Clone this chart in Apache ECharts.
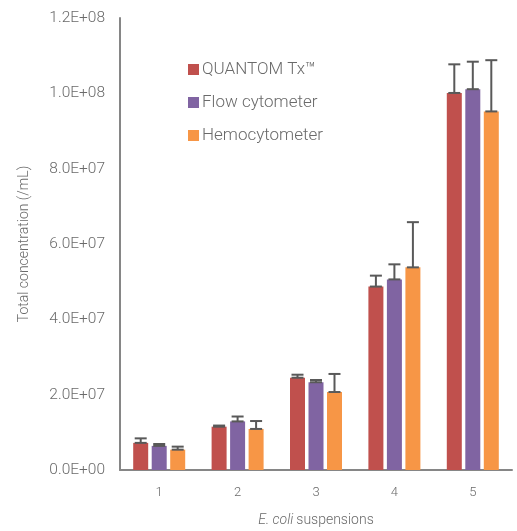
<!DOCTYPE html>
<html>
<head>
<meta charset="utf-8">
<script src="https://cdn.jsdelivr.net/npm/echarts@6/dist/echarts.min.js"></script>
<style>html,body{margin:0;padding:0;background:#fff}#c{width:517px;height:531px}</style>
</head>
<body>
<div id="c"></div>
<script>
var categories = ['1', '2', '3', '4', '5'];
var seriesNames = ['QUANTOM Tx\u2122', 'Flow cytometer', 'Hemocytometer'];
var quantom = [7.2e6, 11.5e6, 24.5e6, 48.7e6, 100.1e6];
var quantomUpper = [8.4e6, 11.8e6, 25.3e6, 51.6e6, 107.7e6];
var flow = [6.4e6, 12.9e6, 23.3e6, 50.6e6, 101.1e6];
var flowUpper = [6.9e6, 14.2e6, 23.9e6, 54.6e6, 108.4e6];
var hemo = [5.4e6, 10.9e6, 20.7e6, 53.8e6, 95.2e6];
var hemoUpper = [6.2e6, 13.0e6, 25.5e6, 65.8e6, 108.8e6];
var yTicks = ['0.0E+00', '2.0E+07', '4.0E+07', '6.0E+07', '8.0E+07', '1.0E+08', '1.2E+08'];

var colors = ['#C0504D', '#8064A2', '#F79646'];
var values = [quantom, flow, hemo];
var uppers = [quantomUpper, flowUpper, hemoUpper];
var barW = 15, gapPx = 3.5;
var font = 'Roboto';
var textColor = '#6a6a6a';

function errSeries(k) {
  var offset = (k - 1) * (barW + gapPx);
  return {
    type: 'custom',
    name: seriesNames[k] + ' err',
    z: 5,
    silent: true,
    renderItem: function (params, api) {
      var i = api.value(0);
      var lo = api.coord([i, api.value(1)]);
      var hi = api.coord([i, api.value(2)]);
      var x = lo[0] + offset;
      var cap = 6;
      var st = { stroke: '#595959', lineWidth: 2 };
      return {
        type: 'group',
        children: [
          { type: 'line', shape: { x1: x, y1: lo[1], x2: x, y2: hi[1] }, style: st },
          { type: 'line', shape: { x1: x - cap, y1: hi[1], x2: x + cap, y2: hi[1] }, style: st },
          { type: 'line', shape: { x1: x - cap, y1: lo[1], x2: x + cap, y2: lo[1] }, style: st }
        ]
      };
    },
    data: categories.map(function (c, i) { return [i, values[k][i], uppers[k][i]]; })
  };
}

var series = [];
for (var k = 0; k < 3; k++) {
  series.push({
    type: 'bar',
    name: seriesNames[k],
    data: values[k],
    barWidth: barW,
    barGap: (gapPx / barW * 100) + '%',
    itemStyle: { color: colors[k] }
  });
}
for (var k2 = 0; k2 < 3; k2++) series.push(errSeries(k2));

var chart = echarts.init(document.getElementById('c'));
chart.setOption({
  animation: false,
  textStyle: { fontFamily: font },
  grid: { left: 120, top: 18, width: 392, height: 452, containLabel: false, outerBoundsMode: 'none' },
  legend: {
    data: seriesNames,
    orient: 'vertical',
    left: 183,
    top: 56,
    itemWidth: 11,
    itemHeight: 11,
    itemGap: 16,
    icon: 'rect',
    textStyle: { fontFamily: font, fontWeight: 300, fontSize: 17, color: textColor, padding: [0, 0, 0, -2] }
  },
  xAxis: {
    type: 'category',
    data: categories,
    name: '{i|E. coli} {n|suspensions}',
    nameLocation: 'middle',
    nameGap: 43,
    nameTextStyle: {
      rich: {
        i: { fontFamily: font, fontWeight: 300, fontStyle: 'italic', fontSize: 14, color: textColor },
        n: { fontFamily: font, fontWeight: 300, fontSize: 14, color: textColor }
      }
    },
    axisLine: { lineStyle: { color: '#868686', width: 2 } },
    axisTick: { show: false },
    axisLabel: { fontFamily: font, fontWeight: 300, fontSize: 13, color: textColor, margin: 16 }
  },
  yAxis: {
    type: 'value',
    min: 0,
    max: 1.2e8,
    interval: 2e7,
    name: 'Total concentration (/mL)',
    nameLocation: 'middle',
    nameGap: 89,
    nameTextStyle: { fontFamily: font, fontWeight: 300, fontSize: 14, color: textColor },
    splitLine: { show: false },
    axisTick: { show: false },
    axisLine: { show: true, lineStyle: { color: '#868686', width: 2 } },
    axisLabel: {
      fontFamily: font, fontWeight: 300, fontSize: 15.5, color: textColor, margin: 15,
      formatter: function (v) { return yTicks[Math.round(v / 2e7)]; }
    }
  },
  series: series
});
</script>
</body>
</html>
